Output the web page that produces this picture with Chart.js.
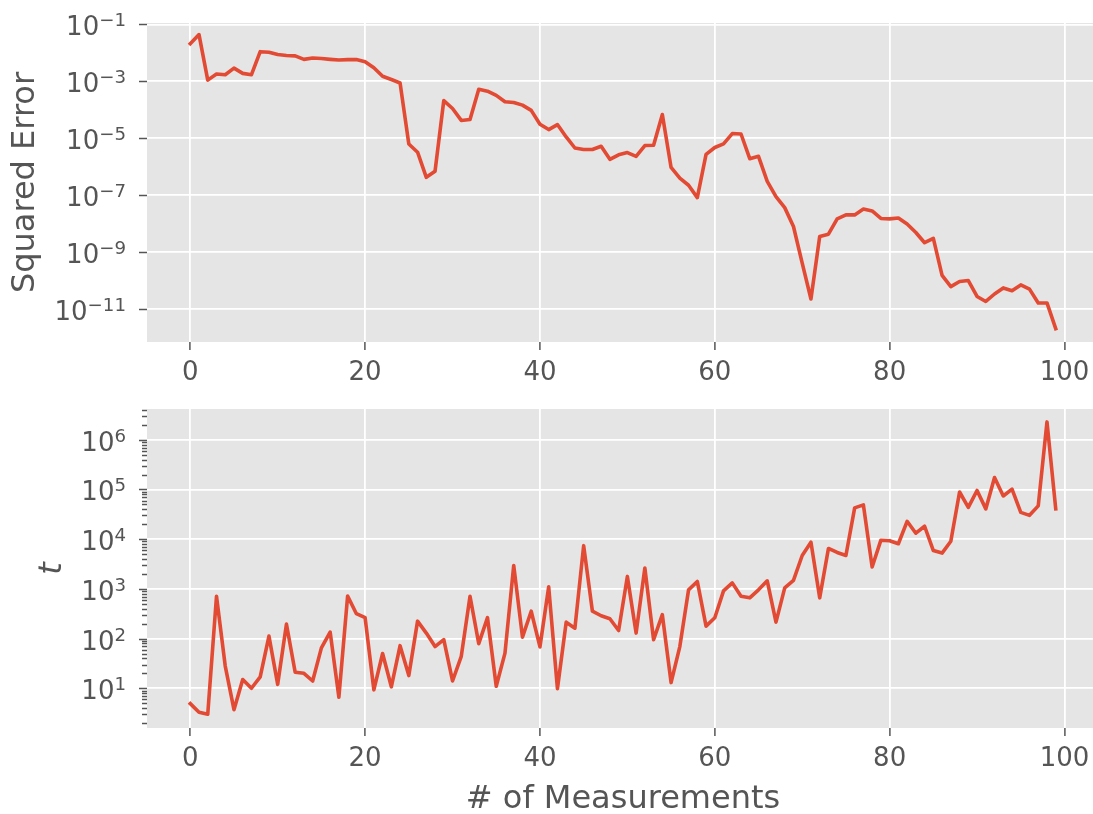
<!DOCTYPE html>
<html>
<head>
<meta charset="utf-8">
<script src="https://cdn.jsdelivr.net/npm/chart.js@4.4.1/dist/chart.umd.min.js"></script>
<style>
  html, body { margin: 0; padding: 0; background: #fff; overflow: hidden; }
  canvas { position: absolute; left: 0; }
  #errChart { top: 0; }
  #tChart { top: 400px; }
</style>
</head>
<body>
<canvas id="errChart" width="1100" height="400"></canvas>
<canvas id="tChart" width="1100" height="414"></canvas>
<script>
// measurement index on the x axis
const measurements = [...Array(100).keys()];

const squaredError = [
  2.1e-2, 4.4e-2, 1.1e-3, 1.8e-3, 1.7e-3, 2.9e-3, 1.9e-3, 1.7e-3, 1.1e-2, 1.05e-2,
  8.7e-3, 8.1e-3, 7.8e-3, 5.9e-3, 6.6e-3, 6.3e-3, 5.9e-3, 5.6e-3, 5.8e-3, 5.8e-3,
  4.9e-3, 3.0e-3, 1.5e-3, 1.15e-3, 8.7e-4, 6.2e-6, 3.2e-6, 4.2e-7, 6.9e-7, 2.1e-4,
  1.1e-4, 4.2e-5, 4.5e-5, 5.2e-4, 4.5e-4, 3.2e-4, 1.9e-4, 1.8e-4, 1.45e-4, 9.5e-5,
  3.1e-5, 2.0e-5, 3.0e-5, 1.1e-5, 4.5e-6, 4.0e-6, 4.0e-6, 5.2e-6, 1.8e-6, 2.6e-6,
  3.1e-6, 2.3e-6, 5.5e-6, 5.6e-6, 6.8e-5, 9.3e-7, 3.9e-7, 2.2e-7, 8.1e-8, 2.7e-6,
  4.7e-6, 6.3e-6, 1.45e-5, 1.4e-5, 1.9e-6, 2.3e-6, 3.0e-7, 8.7e-8, 3.6e-8, 7.8e-9,
  4.0e-10, 2.2e-11, 3.5e-9, 4.2e-9, 1.45e-8, 2.0e-8, 2.0e-8, 3.2e-8, 2.75e-8, 1.5e-8,
  1.45e-8, 1.55e-8, 9.5e-9, 4.8e-9, 2.1e-9, 3.0e-9, 1.5e-10, 6.0e-11, 9.1e-11, 9.8e-11,
  2.7e-11, 1.8e-11, 3.3e-11, 5.4e-11, 4.3e-11, 6.9e-11, 4.9e-11, 1.6e-11, 1.6e-11, 2.0e-12
];

const tValues = [
  4.9, 3.3, 3.0, 710, 28, 3.7, 15, 10, 17, 112,
  12, 195, 21, 20, 14, 65, 135, 6.6, 720, 316,
  263, 9.3, 50, 10.7, 72, 18, 224, 129, 69, 95,
  14, 44, 710, 79, 263, 11, 51, 2950, 107, 355,
  68, 1100, 9.8, 214, 162, 7400, 355, 288, 251, 145,
  1780, 129, 2630, 95, 302, 13, 69, 955, 1410, 178,
  263, 912, 1320, 710, 660, 955, 1450, 214, 1050, 1480,
  4700, 8700, 660, 6500, 5400, 4700, 42700, 49000, 2750, 9550,
  9300, 8100, 22900, 13200, 18200, 5900, 5250, 9100, 89000, 43600,
  95500, 40700, 174000, 74100, 102000, 34700, 30200, 46800, 2290000, 40700
];

const xTicks = [0, 20, 40, 60, 80, 100];
const errTicks = [1e-11, 1e-9, 1e-7, 1e-5, 1e-3, 1e-1];
const tTicks = [1e1, 1e2, 1e3, 1e4, 1e5, 1e6];

const FONT = 'DejaVu Sans';
const TEXT = '#555555';
const LINE = '#E24A33';
const PANEL = '#E5E5E5';
const TICK_SIZE = 26;
const SUP_SIZE = 18.2;
const LABEL_SIZE = 32;

// 2..9 x 10^n between lo and hi
function logMinors(lo, hi) {
  const out = [];
  for (let e = Math.floor(Math.log10(lo)); e <= Math.ceil(Math.log10(hi)); e++) {
    for (let k = 2; k <= 9; k++) {
      const v = k * Math.pow(10, e);
      if (v >= lo && v <= hi) out.push(v);
    }
  }
  return out;
}

// grey panel behind the plot, y tick marks and 10^n labels
const panelDecor = {
  id: 'panelDecor',
  beforeDraw(chart) {
    const { ctx, chartArea: a } = chart;
    ctx.save();
    ctx.fillStyle = PANEL;
    ctx.fillRect(a.left, a.top, a.right - a.left, a.bottom - a.top);
    ctx.restore();
  },
  afterDraw(chart) {
    const { ctx, chartArea } = chart;
    const y = chart.scales.y;
    const left = chartArea.left;
    ctx.save();
    ctx.strokeStyle = TEXT;
    ctx.fillStyle = TEXT;
    ctx.lineWidth = 1.5;
    ctx.textBaseline = 'alphabetic';
    ctx.textAlign = 'left';
    y.ticks.forEach(t => {
      const py = Math.round(y.getPixelForValue(t.value)) + 0.5;
      const len = t.major ? 8 : 5;
      ctx.beginPath();
      ctx.moveTo(left - len, py);
      ctx.lineTo(left, py);
      ctx.stroke();
      if (!t.major) return;
      const exp = Math.round(Math.log10(t.value));
      const sup = (exp < 0 ? '\u2212' : '') + Math.abs(exp);
      ctx.font = `${TICK_SIZE}px "${FONT}"`;
      const w1 = ctx.measureText('10').width;
      ctx.font = `${SUP_SIZE}px "${FONT}"`;
      const w2 = ctx.measureText(sup).width;
      const x0 = left - 21 - w1 - w2;
      ctx.font = `${TICK_SIZE}px "${FONT}"`;
      ctx.fillText('10', x0, py + 10.5);
      ctx.font = `${SUP_SIZE}px "${FONT}"`;
      ctx.fillText(sup, x0 + w1, py + 1.5);
    });
    ctx.restore();
  }
};

function buildChart(id, values, opts) {
  return new Chart(document.getElementById(id), {
    type: 'line',
    data: {
      datasets: [{
        data: measurements.map((x, i) => ({ x, y: values[i] })),
        borderColor: LINE,
        borderWidth: 3.6,
        borderJoinStyle: 'round',
        borderCapStyle: 'square',
        pointRadius: 0,
        fill: false,
        tension: 0
      }]
    },
    options: {
      responsive: false,
      animation: false,
      events: [],
      layout: { padding: { left: 0, right: 1, top: opts.padTop, bottom: 0 } },
      plugins: { legend: { display: false }, tooltip: { enabled: false } },
      scales: {
        x: {
          type: 'linear',
          min: -4.95,
          max: 103.95,
          afterBuildTicks: s => { s.ticks = xTicks.map(v => ({ value: v })); },
          afterFit: s => { s.height = opts.xHeight; },
          border: { display: false },
          grid: { color: '#ffffff', lineWidth: 1.8, tickColor: TEXT, tickLength: 8, tickWidth: 1.5 },
          ticks: { font: { family: FONT, size: TICK_SIZE }, color: TEXT, padding: 8, maxRotation: 0 },
          title: opts.xTitle ? {
            display: true, text: opts.xTitle, color: TEXT,
            font: { family: FONT, size: LABEL_SIZE, lineHeight: 0.9 }, padding: 0
          } : { display: false }
        },
        y: {
          type: 'logarithmic',
          min: opts.yMin,
          max: opts.yMax,
          afterBuildTicks: s => {
            const major = opts.yTicks.map(v => ({ value: v, major: true }));
            const minor = opts.minor ? logMinors(opts.yMin, opts.yMax).map(v => ({ value: v, major: false })) : [];
            s.ticks = major.concat(minor).sort((a, b) => a.value - b.value);
          },
          afterFit: s => { s.width = 147; },
          border: { display: false },
          grid: {
            color: c => (c.tick && c.tick.major === false) ? 'rgba(0,0,0,0)' : '#ffffff',
            lineWidth: 1.8,
            drawTicks: false
          },
          ticks: { display: false },
          title: {
            display: true, text: opts.yTitle, color: TEXT,
            font: { family: FONT, size: LABEL_SIZE, style: opts.yItalic ? 'italic' : 'normal' },
            padding: { top: opts.yTitlePad, bottom: 0 }
          }
        }
      }
    },
    plugins: [panelDecor]
  });
}

buildChart('errChart', squaredError, {
  padTop: 23, xHeight: 58,
  yMin: Math.pow(10, -12.17), yMax: Math.pow(10, -0.95),
  yTicks: errTicks, minor: false,
  yTitle: 'Squared Error', yTitlePad: 6
});

buildChart('tChart', tValues, {
  padTop: 9, xHeight: 86,
  yMin: Math.pow(10, 0.2), yMax: Math.pow(10, 6.62),
  yTicks: tTicks, minor: true,
  yTitle: 't', yItalic: true, yTitlePad: 33,
  xTitle: '# of Measurements'
});
</script>
</body>
</html>
